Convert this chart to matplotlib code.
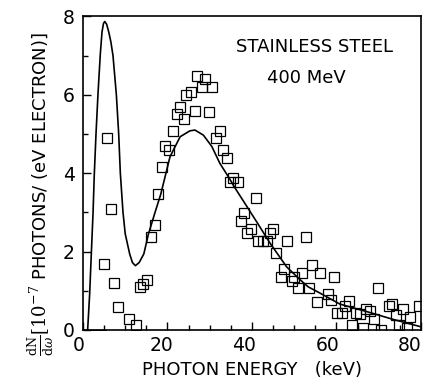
import matplotlib
matplotlib.use("Agg")
import matplotlib.pyplot as plt
from matplotlib.ticker import MultipleLocator
from matplotlib.transforms import ScaledTranslation

# --- measured spectrum (open squares) ---
meas_x = [1.5, 2.5, 3.5, 4.3,
          4.9, 5.7, 6.6, 7.4, 8.3, 10.8, 12.5, 13.4, 14.2, 15.1, 16.0, 17.0,
          17.8, 18.6, 19.5, 20.3, 21.2, 22.2, 23.0, 23.9, 24.5, 25.6, 26.4,
          27.1, 28.1, 28.9, 29.8, 30.6, 31.5, 32.4, 33.2, 34.0, 34.8, 35.6,
          36.6, 37.3, 38.1, 38.9, 39.8, 40.9, 41.5, 42.5, 43.6, 44.3, 45.0,
          45.8, 46.8, 47.6, 48.4, 49.4, 49.9, 51.0, 51.8, 52.7, 53.4, 54.2,
          55.3, 56.1, 58.1, 58.7, 59.4, 60.2, 61.2, 62.1, 62.9, 63.7, 64.6,
          65.6, 66.2, 67.1, 68.0, 68.9, 69.9, 70.5, 72.5, 73.1, 74.1, 74.9,
          75.8, 76.7, 77.4, 79.5]
meas_y = [-0.12, -0.12, -0.12, -0.12,
          1.68, 4.89, 3.08, 1.19, 0.59, 0.28, 0.12, 1.09, 1.18, 1.28, 2.38, 2.68,
          3.46, 4.17, 4.69, 4.59, 5.08, 5.50, 5.70, 5.39, 6.00, 6.08, 5.58,
          6.49, 6.19, 6.39, 5.57, 6.19, 4.89, 5.08, 4.59, 4.38, 3.78, 3.87,
          3.78, 2.78, 2.98, 2.47, 2.57, 3.37, 2.27, 2.27, 2.27, 2.47, 2.57,
          1.97, 1.36, 1.56, 2.27, 1.26, 1.34, 1.06, 1.46, 2.36, 1.06, 1.66,
          0.71, 1.46, 0.92, 0.77, 1.34, 0.44, 0.44, 0.62, 0.75, 0.12, 0.44,
          0.41, 0.04, 0.54, 0.49, 0.28, 1.06, 0.00, 0.61, 0.65, 0.39, 0.12,
          0.53, 0.04, 0.32, 0.60]

# --- calculated spectrum (solid line) ---
calc_x = [1.1, 1.58, 1.97, 2.37, 2.68, 3.08, 3.55, 4.1, 4.5, 4.85, 5.15, 5.6,
          6.1, 6.6, 7.1, 7.9, 8.45, 8.84, 9.47, 10.0, 11.05, 11.7, 12.4, 13.3,
          14.4, 15.5, 17.0, 18.4, 20.6, 23.0, 25.3, 26.5, 28.5, 30.5, 32.4,
          34.4, 36.0, 37.9, 41.1, 44.3, 48.2, 51.4, 53.3, 56.1, 60.8, 67.1,
          73.4, 80.0]
calc_y = [0.0, 0.92, 1.94, 2.96, 3.98, 5.0, 6.02, 7.04, 7.6, 7.82, 7.87, 7.8,
          7.6, 7.35, 7.0, 6.0, 5.0, 4.0, 3.0, 2.45, 1.94, 1.72, 1.64, 1.72,
          1.94, 2.45, 2.98, 3.46, 4.42, 4.93, 5.08, 5.10, 4.97, 4.68, 4.25,
          3.91, 3.62, 3.30, 2.76, 2.21, 1.61, 1.28, 1.10, 0.94, 0.66, 0.47,
          0.27, 0.08]

x_ticks = [0, 20, 40, 60, 80]
y_ticks = [0, 2, 4, 6, 8]

plt.rcParams["font.family"] = ["DejaVu Sans"]
plt.rcParams["mathtext.fontset"] = "dejavuserif"

fig = plt.figure(figsize=(4.3, 3.81), dpi=100)
ax = fig.add_axes([0.193, 0.134, 0.786, 0.823])

ax.plot(calc_x, calc_y, color="black", linewidth=1.2)
ax.plot(meas_x, meas_y, linestyle="none", marker="s", markersize=7.2,
        markerfacecolor="none", markeredgecolor="black", markeredgewidth=0.9)

ax.set_xlim(0, 80)
ax.set_ylim(0, 8)
ax.set_xticks(x_ticks)
ax.set_yticks(y_ticks)
ax.xaxis.set_minor_locator(MultipleLocator(5))
ax.yaxis.set_minor_locator(MultipleLocator(1))
ax.tick_params(which="both", direction="in", top=False, right=False,
               labelsize=13.5, width=1.0)
ax.tick_params(which="major", length=6)
ax.tick_params(which="minor", length=3.5)
ax.tick_params(axis="x", pad=4)
ax.tick_params(axis="y", pad=6)
for s in ax.spines.values():
    s.set_linewidth(1.2)

# the original plot's x labels drift left of their ticks
for lbl, val in zip(ax.get_xticklabels(), x_ticks):
    lbl.set_transform(lbl.get_transform() +
                      ScaledTranslation(-0.04 - val / 80 * 0.07, 0, fig.dpi_scale_trans))

ax.set_xlabel("PHOTON ENERGY   (keV)", fontsize=13, labelpad=5)

ax.text(54.8, 7.23, "STAINLESS STEEL", fontsize=13, ha="center", va="center")
ax.text(52.8, 6.42, "400 MeV", fontsize=13, ha="center", va="center")

fig.text(0.095, 0.49,
         r"$\frac{\mathrm{dN}}{\mathrm{d}\omega}\left[10^{-7}\right.$"
         " PHOTONS/ (eV ELECTRON)]",
         rotation=90, fontsize=13, ha="center", va="center")

fig.savefig("out.png", dpi=100)
